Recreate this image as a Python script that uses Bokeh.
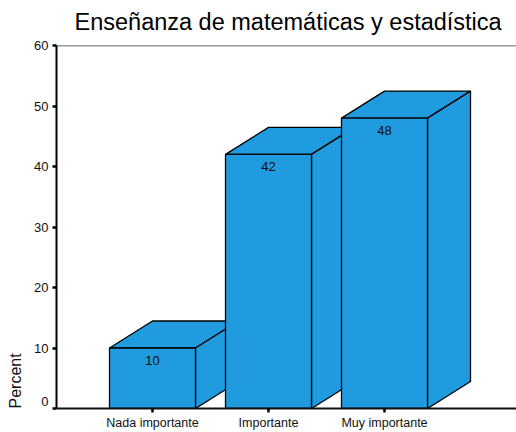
from bokeh.plotting import figure
from bokeh.models import Range1d, FixedTicker, Span, Title
from bokeh.embed import file_html
from bokeh.resources import INLINE

categories = ["Nada importante", "Importante", "Muy importante"]
values = [10, 42, 48]
y_ticks = [0, 10, 20, 30, 40, 50, 60]
title_text = "Enseñanza de matemáticas y estadística"
y_label = "Percent"

FILL = "#219BDF"
FONT = "Liberation Sans"
BAR_W = 86 / 116
DX = 43 / 116
DY = 27 / 6.05

p = figure(width=516, height=432, output_backend="svg", toolbar_location=None,
           x_range=Range1d(1 - 96 / 116, 1 + 364 / 116), y_range=Range1d(0, 60),
           min_border_left=56, min_border_right=0, min_border_top=45, min_border_bottom=24)
p.grid.visible = False
p.outline_line_color = None
p.background_fill_color = "white"

positions = [1, 2, 3]
for xc, v in zip(positions, values):
    l, r = xc - BAR_W / 2, xc + BAR_W / 2
    p.patch([l, l + DX, r + DX, r], [v, v + DY, v + DY, v],
            fill_color=FILL, line_color="black", line_width=1.3)
    p.patch([r, r + DX, r + DX, r], [0, DY, v + DY, v],
            fill_color=FILL, line_color="black", line_width=1.3)
    p.patch([l, r, r, l], [0, 0, v, v],
            fill_color=FILL, line_color="black", line_width=1.3)
    p.text([xc], [v], text=[str(v)], text_align="center", text_baseline="middle",
           y_offset=12, text_font_size="13px", text_color="#111111", text_font={"value": FONT})

p.add_layout(Span(location=60, dimension="width", line_color="#333333", line_width=1.5))

yax = p.yaxis[0]
yax.ticker = FixedTicker(ticks=y_ticks)
yax.major_label_overrides = {0: "0\n"}
yax.axis_line_width = 2
yax.axis_line_color = "black"
yax.major_tick_line_width = 2.5
yax.major_tick_line_color = "black"
yax.major_tick_out = 4
yax.major_tick_in = 0
yax.minor_tick_line_color = None
yax.major_label_text_font = FONT
yax.major_label_text_font_size = "13px"
yax.major_label_text_color = "#111111"
yax.major_label_standoff = 4
yax.major_label_text_line_height = 0.95

xax = p.xaxis[0]
xax.ticker = FixedTicker(ticks=positions)
xax.major_label_overrides = dict(zip(positions, categories))
xax.axis_line_width = 2
xax.axis_line_color = "#111111"
xax.major_tick_line_width = 2.5
xax.major_tick_line_color = "black"
xax.major_tick_out = 4
xax.major_tick_in = 0
xax.minor_tick_line_color = None
xax.major_label_text_font = FONT
xax.major_label_text_font_size = "12.5px"
xax.major_label_text_color = "#111111"
xax.major_label_standoff = 3

p.title = Title(text=title_text, align="left", offset=18, standoff=17, vertical_align="top",
                text_font=FONT, text_font_size="23.5px", text_font_style="normal",
                text_color="black")
p.add_layout(Title(text=y_label, align="left", offset=0, standoff=12, vertical_align="top",
                   text_font=FONT, text_font_size="16px", text_font_style="normal",
                   text_color="#111111"), "left")

open("out.html", "w").write(file_html(p, INLINE))
